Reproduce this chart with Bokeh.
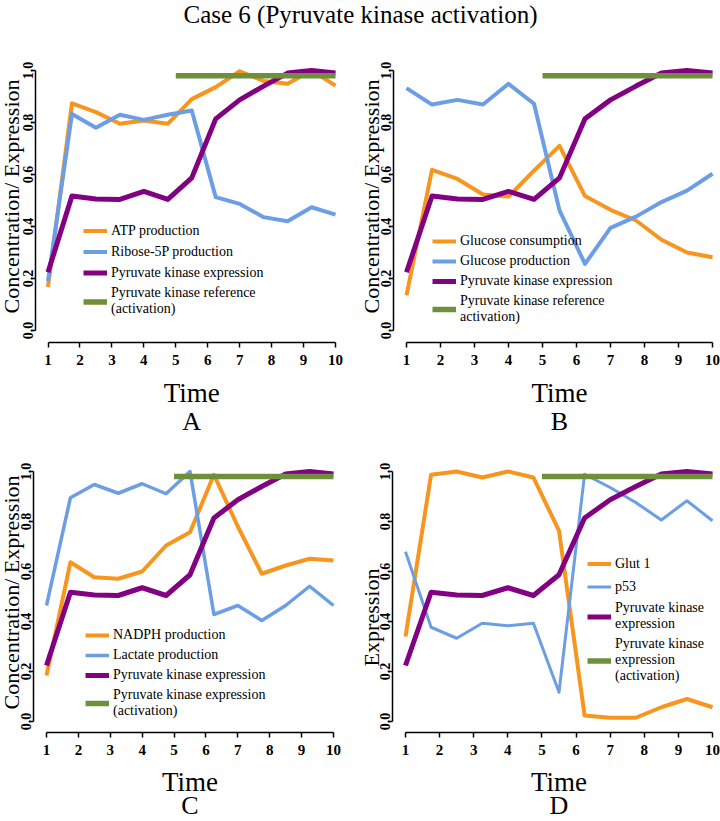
import math
from bokeh.plotting import figure
from bokeh.models import (Range1d, FixedTicker, Label, Legend, LegendItem,
                          NumeralTickFormatter)
from bokeh.layouts import column, row
from bokeh.embed import file_html
from bokeh.resources import INLINE

# ---------------- data ----------------
time = [1, 1.75, 2.5, 3.25, 4, 4.75, 5.5, 6.25, 7, 7.75, 8.5, 9.25, 10]
pk_expression = [0.224, 0.517, 0.506, 0.504, 0.535, 0.504, 0.587, 0.814, 0.887, 0.94, 0.99, 1.0, 0.99]
pk_ref_time = [5, 10]
pk_reference = [0.98, 0.98]

atp_production = [0.167, 0.874, 0.84, 0.795, 0.808, 0.795, 0.89, 0.936, 0.997, 0.96, 0.949, 1.0, 0.942]
ribose5p_production = [0.19, 0.833, 0.78, 0.83, 0.81, 0.83, 0.846, 0.513, 0.487, 0.436, 0.42, 0.474, 0.446]

glucose_consumption = [0.135, 0.618, 0.583, 0.523, 0.515, 0.615, 0.71, 0.517, 0.464, 0.423, 0.349, 0.30, 0.282]
glucose_production = [0.932, 0.869, 0.887, 0.869, 0.949, 0.872, 0.462, 0.256, 0.395, 0.438, 0.494, 0.538, 0.603]

nadph_production = [0.184, 0.637, 0.577, 0.571, 0.60, 0.704, 0.757, 0.987, 0.78, 0.591, 0.624, 0.651, 0.644]
lactate_production = [0.464, 0.895, 0.948, 0.913, 0.951, 0.911, 1.0, 0.428, 0.464, 0.404, 0.464, 0.541, 0.464]

glut1 = [0.34, 0.987, 1.0, 0.976, 1.0, 0.976, 0.763, 0.024, 0.015, 0.015, 0.057, 0.09, 0.057]
p53 = [0.679, 0.377, 0.333, 0.393, 0.383, 0.393, 0.117, 0.989, 0.936, 0.876, 0.806, 0.883, 0.803]

x_ticks = [1, 2, 3, 4, 5, 6, 7, 8, 9, 10]
y_ticks = [0.0, 0.2, 0.4, 0.6, 0.8, 1.0]

title_text = "Case 6 (Pyruvate kinase activation)"

ORANGE = "#F7951F"
BLUE = "#6C9EE6"
PURPLE = "#820082"
GREEN = "#6E8F3C"
SERIF = "Liberation Serif"


def make_panel(L, T, w, h, axis_x, axis_y, x1, x10, y0, y1,
               series, ylabel, ylabel_pos, letter, time_y, letter_y, legend_cfg):
    R, B = L + w, T + h
    u = (x10 - x1) / 9.0
    v = (y0 - y1)
    xs = 1 - (x1 - L) / u
    xe = 10 + (R - x10) / u
    ys = -(B - y0) / v
    ye = 1 + (y1 - T) / v
    p = figure(width=w, height=h, toolbar_location=None, output_backend="svg",
               x_range=Range1d(xs, xe), y_range=Range1d(ys, ye), min_border=0)
    p.outline_line_color = None
    p.grid.visible = False

    items = []
    for xs_, ys_, col, lw, lab in series:
        r = p.line(xs_, ys_, line_color=col, line_width=lw, line_join="round")
        items.append(LegendItem(label=lab, renderers=[r]))

    # x axis
    xa = p.xaxis[0]
    xa.fixed_location = -(axis_y - y0) / v
    xa.bounds = (1, 10)
    xa.ticker = FixedTicker(ticks=x_ticks)
    xa.minor_tick_line_color = None
    xa.major_tick_in = 0
    xa.major_tick_out = 5
    xa.major_tick_line_width = 1.5
    xa.axis_line_width = 1.5
    xa.major_label_text_font = SERIF
    xa.major_label_text_font_style = "bold"
    xa.major_label_text_font_size = "15px"
    xa.major_label_text_color = "black"
    xa.major_label_standoff = 7

    # y axis
    ya = p.yaxis[0]
    ya.fixed_location = 1 - (x1 - axis_x) / u
    ya.bounds = (0, 1)
    ya.ticker = FixedTicker(ticks=y_ticks)
    ya.formatter = NumeralTickFormatter(format="0.0")
    ya.minor_tick_line_color = None
    ya.major_tick_in = 0
    ya.major_tick_out = 3
    ya.major_tick_line_width = 1.5
    ya.axis_line_width = 1.5
    ya.major_label_orientation = "vertical"
    ya.major_label_text_font = SERIF
    ya.major_label_text_font_style = "bold"
    ya.major_label_text_font_size = "14px"
    ya.major_label_text_color = "black"
    ya.major_label_standoff = 0

    lx, ly = ylabel_pos
    p.add_layout(Label(x=1 + (lx - x1) / u, y=(y0 - ly) / v, text=ylabel,
                       angle=math.pi / 2, text_align="center", text_baseline="middle",
                       text_font=SERIF, text_font_size="22px", text_color="black"))
    p.add_layout(Label(x=5.5, y=(y0 - time_y) / v, text="Time",
                       text_align="center", text_baseline="middle",
                       text_font=SERIF, text_font_size="27px", text_color="black"))
    p.add_layout(Label(x=5.5, y=(y0 - letter_y) / v, text=letter,
                       text_align="center", text_baseline="middle",
                       text_font=SERIF, text_font_size="26px", text_color="black"))

    gx, gy, gh, sp, fs = legend_cfg
    legend = Legend(items=items, location=(gx - L, B - gy), padding=0, margin=0,
                    border_line_color=None, background_fill_alpha=0,
                    glyph_width=24, glyph_height=gh, label_height=gh, spacing=sp,
                    label_standoff=4, label_text_font=SERIF, label_text_font_size=fs,
                    label_text_color="black")
    p.add_layout(legend)
    return p


pA = make_panel(0, 36, 360, 400, 35, 342, 47.5, 335, 330, 70,
                [(time, atp_production, ORANGE, 4, "ATP production"),
                 (time, ribose5p_production, BLUE, 4, "Ribose-5P production"),
                 (time, pk_expression, PURPLE, 5, "Pyruvate kinase expression"),
                 (pk_ref_time, pk_reference, GREEN, 5.5, "Pyruvate kinase reference\n(activation)")],
                "Concentration/ Expression", (11, 196), "A", 392, 421,
                (83, 317, 17, 4, "14px"))

pB = make_panel(360, 36, 360, 400, 393, 342, 406, 712, 330, 70,
                [(time, glucose_consumption, ORANGE, 4, "Glucose consumption"),
                 (time, glucose_production, BLUE, 4, "Glucose production"),
                 (time, pk_expression, PURPLE, 5, "Pyruvate kinase expression"),
                 (pk_ref_time, pk_reference, GREEN, 5.5, "Pyruvate kinase reference\nactivation)")],
                "Concentration/ Expression", (371, 196), "B", 392, 421,
                (432, 325, 16, 4, "14px"))

pC = make_panel(0, 436, 360, 385, 33, 732, 46, 333, 721, 471,
                [(time, nadph_production, ORANGE, 4, "NADPH production"),
                 (time, lactate_production, BLUE, 3.5, "Lactate production"),
                 (time, pk_expression, PURPLE, 5, "Pyruvate kinase expression"),
                 (pk_ref_time, pk_reference, GREEN, 5.5, "Pyruvate kinase expression\n(activation)")],
                "Concentration/ Expression", (11, 592), "C", 781, 805,
                (85, 719, 16, 4, "14px"))

pD = make_panel(360, 436, 360, 385, 392, 732, 405, 712, 721, 471,
                [(time, glut1, ORANGE, 4, "Glut 1"),
                 (time, p53, BLUE, 3, "p53"),
                 (time, pk_expression, PURPLE, 5, "Pyruvate kinase\nexpression"),
                 (pk_ref_time, pk_reference, GREEN, 5.5, "Pyruvate kinase\nexpression\n(activation)")],
                "Expression", (371, 617), "D", 781, 805,
                (587, 684, 19, 4, "14px"))

tp = figure(width=720, height=36, toolbar_location=None, output_backend="svg",
            x_range=Range1d(0, 1), y_range=Range1d(0, 1), min_border=0,
            x_axis_location=None, y_axis_location=None)
tp.grid.visible = False
tp.outline_line_color = None
tp.add_layout(Label(x=0.5, y=1 - 14 / 36, text=title_text, text_align="center",
                    text_baseline="middle", text_font=SERIF, text_font_size="25px",
                    text_color="black"))

layout = column(tp, row(pA, pB), row(pC, pD))

with open("out.html", "w") as f:
    f.write(file_html(layout, INLINE))
